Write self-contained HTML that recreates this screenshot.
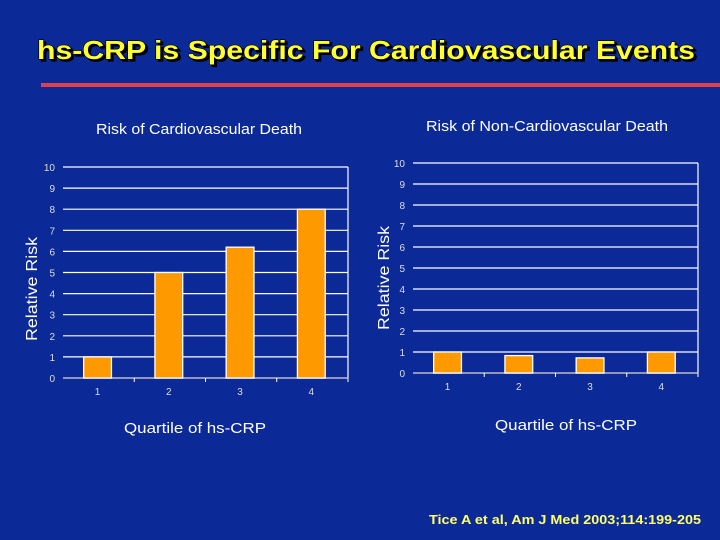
<!DOCTYPE html>
<html><head><meta charset="utf-8"><style>
html,body{margin:0;padding:0}
body{width:720px;height:540px;background:#0b2a98;overflow:hidden;position:relative;font-family:"Liberation Sans",Arial,sans-serif}
svg{position:absolute;left:0;top:0}
svg text{font-family:"Liberation Sans",Arial,sans-serif}
</style></head><body>
<svg id="s" width="720" height="540">
<text x="37" y="59" textLength="658" lengthAdjust="spacingAndGlyphs" font-weight="bold" font-size="26" fill="#ffff33" stroke="#000" stroke-width="1.2" paint-order="stroke" style="text-shadow:2px 2px 0 #000">hs-CRP is Specific For Cardiovascular Events</text>
<rect x="41" y="83" width="679" height="4" fill="#e0404a"/>
<text x="429" y="524" textLength="272" lengthAdjust="spacingAndGlyphs" font-weight="bold" font-size="13" fill="#ffff66">Tice A et al, Am J Med 2003;114:199-205</text>
</svg>
<script>
const categories=["1","2","3","4"];
const cvValues=[1.0,5.0,6.2,8.0];
const nonCvValues=[1.0,0.83,0.72,1.0];
const yTicks=[0,1,2,3,4,5,6,7,8,9,10];
const NS="http://www.w3.org/2000/svg";
const svg=document.getElementById('s');
function mk(t,a,p){const e=document.createElementNS(NS,t);for(const k in a)e.setAttribute(k,a[k]);(p||svg).appendChild(e);return e;}
function chart(o){
  const g=mk('g',{});
  
  
  const y=v=>o.y0-(o.y0-o.y1)*v/10;
  const band=(o.x1-o.x0)/categories.length;
  const x=i=>o.x0+band*i+band*0.29;
  const bw=band*0.39;
  yTicks.forEach(t=>{
    const l=mk('line',{x1:o.x0,x2:o.x1,y1:y(t),y2:y(t),stroke:'#fff','stroke-width':1.2},g);
    
    
    const tx=mk('text',{x:o.x0-8,y:y(t)+4,'text-anchor':'end','font-size':10,fill:'#ddd'},g);
    tx.textContent=t;
    
    
  });
  mk('line',{x1:o.x1,x2:o.x1,y1:o.y1,y2:o.y0,stroke:'#fff','stroke-width':1.2},g);
  mk('line',{x1:o.x0,x2:o.x1,y1:o.y0,y2:o.y0,stroke:'#aab','stroke-width':1.5},g);
  categories.forEach((c,i)=>{
    mk('line',{x1:o.x0+band*(i+1),x2:o.x0+band*(i+1),y1:o.y0,y2:o.y0+4,stroke:'#fff'},g);
    const v=o.values[i];
    const r=mk('rect',{x:x(i),y:y(v),width:bw,height:o.y0-y(v),fill:'#ff9900',stroke:'#fff','stroke-width':1.3},g);
    
    
    const tx=mk('text',{x:x(i)+bw/2,y:o.y0+17,'text-anchor':'middle','font-size':10,fill:'#ddd'},g);
    tx.textContent=c;
    
    
  });
  const t=mk('text',{x:o.tx,y:o.ty,textLength:o.tw,lengthAdjust:'spacingAndGlyphs','font-size':15,fill:'#fff'},g);
  t.textContent=o.title;
  
  
  const yl=mk('text',{transform:`translate(${o.ylx},${o.ylc}) rotate(-90)`,'text-anchor':'middle',textLength:104,lengthAdjust:'spacingAndGlyphs','font-size':16,fill:'#fff'},g);
  yl.textContent='Relative Risk';
  
  
  const xl=mk('text',{x:o.xlx,y:o.xly,textLength:142,lengthAdjust:'spacingAndGlyphs','font-size':15,fill:'#fff'},g);
  xl.textContent='Quartile of hs-CRP';
  
  
}
chart({name:'cv-death-chart',values:cvValues,x0:63,x1:348,y0:378,y1:167,title:'Risk of Cardiovascular Death',tx:96,ty:134,tw:206,ylx:37,ylc:289,xlx:124,xly:433});
chart({name:'non-cv-death-chart',values:nonCvValues,x0:413,x1:698,y0:373,y1:163,title:'Risk of Non-Cardiovascular Death',tx:426,ty:131,tw:242,ylx:389,ylc:278,xlx:495,xly:430});
</script>
</body></html>
